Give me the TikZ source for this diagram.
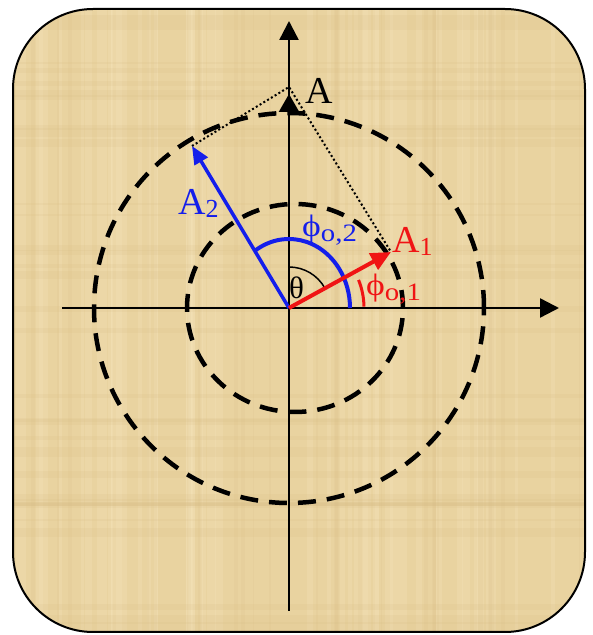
\documentclass[tikz,border=0pt]{standalone}
\usepackage{fontspec}
\setmainfont{Liberation Serif}
\usetikzlibrary{arrows.meta}
\definecolor{parch}{RGB}{233,211,160}
\definecolor{parchlt}{RGB}{246,230,188}
\definecolor{parchdk}{RGB}{214,186,130}
\definecolor{myred}{RGB}{240,20,20}
\definecolor{myblue}{RGB}{20,30,235}
\begin{document}
\begin{tikzpicture}[x=1pt,y=1pt,
  axis/.style={line width=2.4pt,-{Triangle[length=19pt,width=19pt]}},
  ring/.style={line width=4.5pt,dash pattern=on 18pt off 11pt},
  guide/.style={line width=2pt,dash pattern=on 2pt off 2.4pt},
  lbl/.style={inner sep=0pt,anchor=base west},
  big/.style={font=\fontsize{38}{38}\selectfont},
  mid/.style={font=\fontsize{31}{31}\selectfont}]
\useasboundingbox (0,0) rectangle (593,635);
\fill[parch,rounded corners=80pt] (13,3) rectangle (585,626);
% parchment texture
\begin{scope}
\clip[rounded corners=80pt] (13,3) rectangle (585,626);
\pgfmathsetseed{11}
\foreach \i in {1,...,45}{
  \pgfmathsetmacro\xx{13+572*rnd}
  \pgfmathsetmacro\ww{2+9*rnd}
  \fill[parchlt,opacity=0.25] (\xx,3) rectangle ++(\ww,623);
}
\foreach \i in {1,...,35}{
  \pgfmathsetmacro\yy{3+623*rnd}
  \pgfmathsetmacro\hh{2+8*rnd}
  \fill[parchdk,opacity=0.14] (13,\yy) rectangle ++(572,\hh);
}
\foreach \i in {1,...,25}{
  \pgfmathsetmacro\xx{13+572*rnd}
  \pgfmathsetmacro\ww{1+4*rnd}
  \fill[parchdk,opacity=0.12] (\xx,3) rectangle ++(\ww,623);
}
\end{scope}
\draw[line width=2pt,rounded corners=80pt] (13,3) rectangle (585,626);
% key points
\coordinate (O) at (289,327);
\coordinate (xs) at (62,327);
\coordinate (xe) at (559,327);
\coordinate (ys) at (289,24);
\coordinate (ye) at (289,614);
\coordinate (C2) at (295,327);
\coordinate (A) at (289,548);
\coordinate (Ah) at (289,541);
\coordinate (A1) at (391,383);
\coordinate (A2) at (192,489);
% axes
\draw[axis] (xs) -- (xe);
\draw[axis] (ys) -- (ye);
% circles
\draw[ring] (O) circle[radius=195];
\draw[ring] (C2) ellipse[x radius=108,y radius=104];
% resultant
\draw[line width=2.4pt,-{Triangle[length=18pt,width=20pt]}] (O) -- (Ah);
% construction lines
\draw[guide] (A2) -- (A) -- (A1);
% angle arcs
\draw[line width=1.5pt] ([shift={(90:41)}]O) arc[start angle=90,end angle=29,radius=41];
\draw[myblue,line width=4pt] ([shift={(124:61 and 69)}]O) arc[start angle=124,end angle=0,x radius=61,y radius=69];
\draw[myred,line width=3pt] ([shift={(1:75)}]O) arc[start angle=1,end angle=22,radius=75];
% vectors
\draw[myblue,line width=3.5pt,-{Triangle[length=18pt,width=15pt]}] (O) -- (A2);
\draw[myred,line width=4pt,-{Triangle[length=20pt,width=18pt]}] (O) -- (A1);
% labels
\node[lbl,big] (lA) at (305,531) {A};
\node[lbl,big,text=myblue] (lA2) at (178,420) {A\raisebox{-3pt}{\fontsize{26}{26}\selectfont 2}};
\node[lbl,big,text=myred] (lA1) at (392,382) {A\raisebox{-3pt}{\fontsize{26}{26}\selectfont 1}};
\node[lbl,text=myblue] (lp2) at (302,398) {\scalebox{1.15}[1]{\fontsize{31}{31}\selectfont ϕ\raisebox{-5pt}{\fontsize{25}{25}\selectfont o,2}}};
\node[lbl,text=myred] (lp1) at (366,339) {\scalebox{1.15}[1]{\fontsize{31}{31}\selectfont ϕ\raisebox{-5pt}{\fontsize{25}{25}\selectfont o,1}}};
\node[lbl,mid] (lth) at (289,336) {θ};
\end{tikzpicture}
\end{document}
